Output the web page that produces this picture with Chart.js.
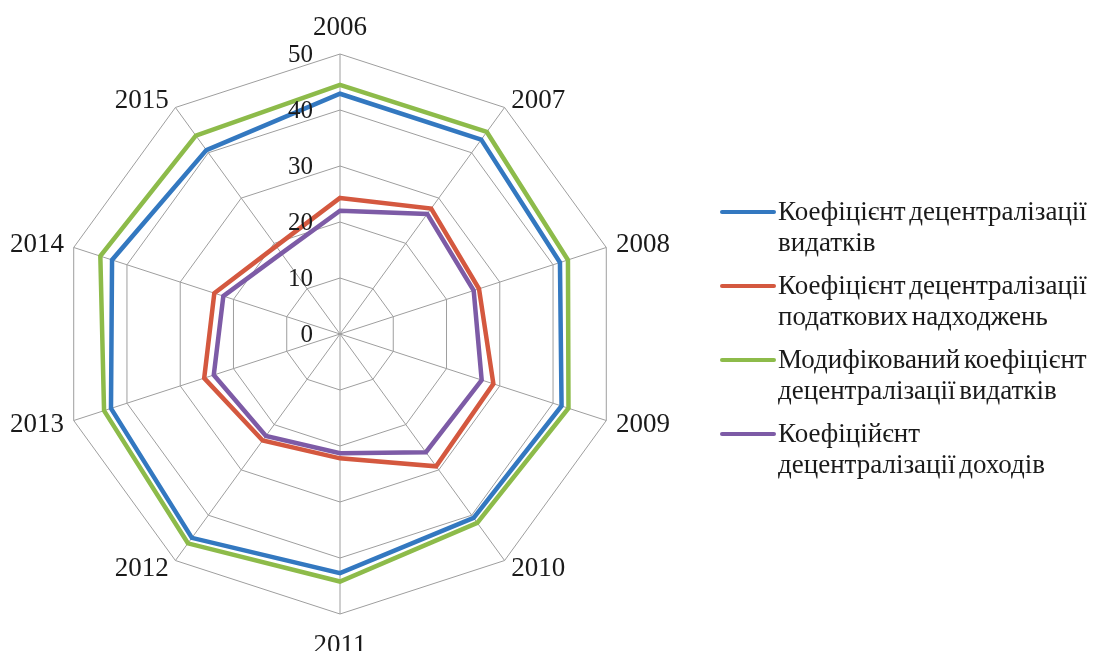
<!DOCTYPE html>
<html lang="uk">
<head>
<meta charset="utf-8">
<script src="https://cdn.jsdelivr.net/npm/chart.js@4/dist/chart.umd.min.js"></script>
<style>
  html, body { margin: 0; padding: 0; background: #ffffff; }
  #wrap { position: relative; width: 1095px; height: 651px; overflow: hidden; }
  #radar { position: absolute; left: 0; top: 0; }
  #legend { position: absolute; left: 719px; top: 196px; font-family: "Liberation Serif", "Times New Roman", serif; font-size: 27px; color: #1a1a1a; white-space: nowrap; word-spacing: -3px; }
  .item { position: relative; padding-left: 59px; line-height: 31px; margin-bottom: 12px; }
  .item .swatch { position: absolute; left: 1px; top: 14px; width: 56px; height: 4px; border-radius: 2px; }
</style>
</head>
<body>
<div id="wrap">
  <canvas id="radar" width="1095" height="651"></canvas>
  <div id="legend"></div>
</div>
<script>
// Years on the radar spokes
const years = ['2006', '2007', '2008', '2009', '2010', '2011', '2012', '2013', '2014', '2015'];

// Radial axis tick labels
const tickValues = [0, 10, 20, 30, 40, 50];

// Series, %
const expenditureCoef = [42.9, 42.9, 41.3, 41.6, 40.6, 42.7, 45.0, 43.0, 42.8, 40.6];
const taxRevenueCoef = [24.3, 27.7, 26.1, 28.8, 29.2, 22.2, 23.5, 25.5, 23.6, 19.4];
const modifiedExpenditureCoef = [44.5, 44.6, 42.8, 42.9, 41.7, 44.2, 46.2, 44.3, 45.0, 43.8];
const incomeCoef = [22.0, 26.5, 25.1, 26.6, 26.1, 21.3, 22.5, 23.7, 21.9, 17.8];

const seriesNames = [
  ['Коефіцієнт децентралізації', 'видатків'],
  ['Коефіцієнт децентралізації', 'податкових надходжень'],
  ['Модифікований коефіцієнт', 'децентралізації видатків'],
  ['Коефіційєнт', 'децентралізації доходів']
];
const seriesColors = ['#3378c0', '#d4583f', '#8dbb4a', '#7d5ba6'];
const seriesData = [expenditureCoef, taxRevenueCoef, modifiedExpenditureCoef, incomeCoef];

const serif = '"Liberation Serif", "Times New Roman", serif';

// Year labels around the outer ring
const yearLabels = {
  id: 'yearLabels',
  afterDraw(chart) {
    const s = chart.scales.r;
    const ctx = chart.ctx;
    ctx.save();
    ctx.font = '27px ' + serif;
    ctx.fillStyle = '#1a1a1a';
    years.forEach((y, i) => {
      const p = s.getPointPosition(i, s.drawingArea + 8);
      const dx = p.x - s.xCenter;
      const dy = p.y - s.yCenter;
      let x = p.x, yy = p.y;
      if (Math.abs(dx) < 1) {
        ctx.textAlign = 'center';
        ctx.textBaseline = dy < 0 ? 'bottom' : 'top';
        yy = dy < 0 ? p.y - 5 : p.y + 10;
      } else {
        ctx.textAlign = dx > 0 ? 'left' : 'right';
        ctx.textBaseline = 'middle';
        x = dx > 0 ? p.x + 2 : p.x - 2;
        yy = p.y + (dy < 0 ? 0 : 2);
      }
      ctx.fillText(y, x, yy);
    });
    ctx.restore();
  }
};

// Value labels placed to the left of the vertical spoke
const valueLabels = {
  id: 'valueLabels',
  afterDatasetsDraw(chart) {
    const s = chart.scales.r;
    const ctx = chart.ctx;
    ctx.save();
    ctx.font = '25px ' + serif;
    ctx.fillStyle = '#1a1a1a';
    ctx.textAlign = 'right';
    ctx.textBaseline = 'middle';
    tickValues.forEach(v => {
      const d = s.getDistanceFromCenterForValue(v);
      ctx.fillText(String(v), s.xCenter - 27, s.yCenter - d + 1);
    });
    ctx.restore();
  }
};

new Chart(document.getElementById('radar'), {
  type: 'radar',
  data: {
    labels: years,
    datasets: seriesData.map((d, i) => ({
      label: seriesNames[i].join(' '),
      data: d,
      borderColor: seriesColors[i],
      backgroundColor: 'rgba(0,0,0,0)',
      borderWidth: 4.5,
      pointRadius: 0,
      pointHoverRadius: 0,
      fill: false,
      tension: 0,
      borderJoinStyle: 'miter'
    }))
  },
  options: {
    responsive: false,
    animation: false,
    layout: { padding: { left: 60, top: 54, right: 474, bottom: 37 } },
    plugins: { legend: { display: false }, tooltip: { enabled: false } },
    elements: { line: { borderCapStyle: 'butt' } },
    scales: {
      r: {
        min: 0,
        max: 50,
        beginAtZero: true,
        ticks: { display: false, stepSize: 10, showLabelBackdrop: false },
        pointLabels: { display: false },
        grid: { color: '#9e9e9e', lineWidth: 1, circular: false },
        angleLines: { color: '#9e9e9e', lineWidth: 1 }
      }
    }
  },
  plugins: [yearLabels, valueLabels]
});

// Legend beside the radar
const legend = document.getElementById('legend');
seriesNames.forEach((lines, i) => {
  const item = document.createElement('div');
  item.className = 'item';
  const sw = document.createElement('div');
  sw.className = 'swatch';
  sw.style.background = seriesColors[i];
  item.appendChild(sw);
  lines.forEach(t => {
    const ln = document.createElement('div');
    ln.textContent = t;
    item.appendChild(ln);
  });
  legend.appendChild(item);
});
</script>
</body>
</html>
